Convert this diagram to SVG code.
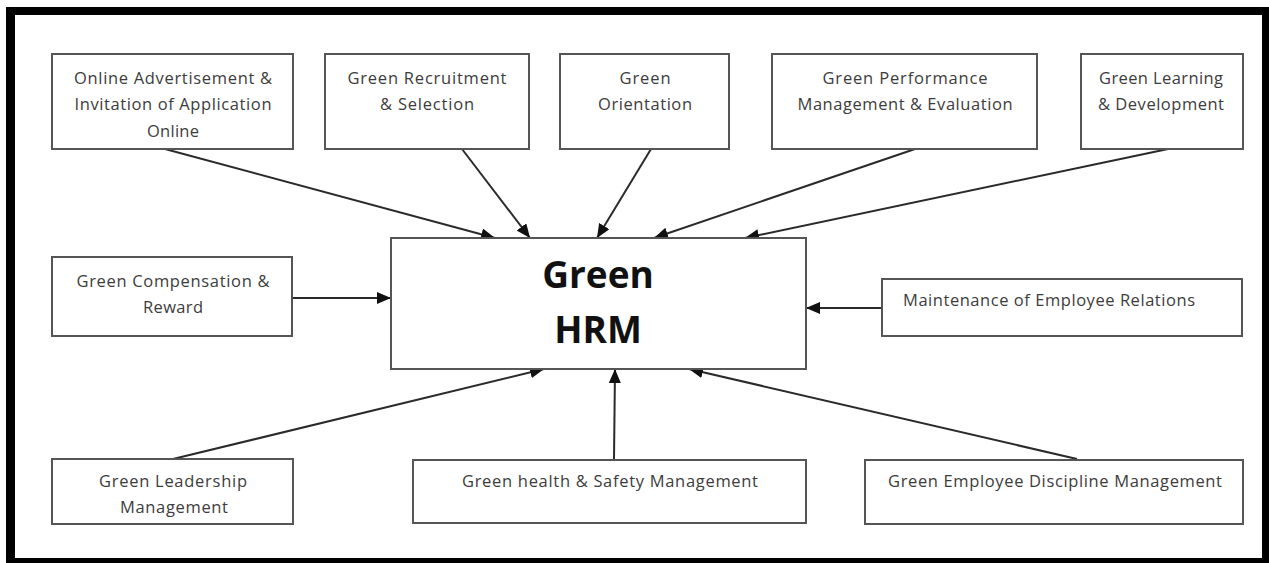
<svg xmlns="http://www.w3.org/2000/svg" width="1269" height="563" viewBox="0 0 1269 563">
  <style>
    .box { fill: #ffffff; stroke: #555555; stroke-width: 2; }
    .lbl { font-family: "Open Sans", "Liberation Sans", sans-serif; font-size: 16.5px; fill: #3c3c3c; text-anchor: middle; }
    .lbl-start { text-anchor: start; }
    .title { font-family: "Open Sans", "Liberation Sans", sans-serif; font-size: 37px; font-weight: bold; fill: #111111; text-anchor: middle; }
    .conn { stroke: #2a2a2a; stroke-width: 2; fill: none; marker-end: url(#arrow); }
  </style>
  <defs>
    <marker id="arrow" markerUnits="userSpaceOnUse" markerWidth="14" markerHeight="12" refX="14" refY="6" orient="auto">
      <path d="M0,0 L14,6 L0,12 Z" fill="#111111"/>
    </marker>
  </defs>

  <!-- page frame -->
  <rect x="0" y="0" width="1269" height="563" fill="#ffffff"/>
  <rect x="6" y="7" width="1263" height="556" fill="#000000"/>
  <rect x="15" y="15" width="1247" height="543" fill="#ffffff"/>

  <!-- connectors -->
  <g id="connectors">
    <line class="conn" x1="165" y1="149" x2="495" y2="238"/>
    <line class="conn" x1="462" y1="149" x2="530" y2="238"/>
    <line class="conn" x1="651" y1="149" x2="597" y2="238"/>
    <line class="conn" x1="915" y1="149" x2="654" y2="238"/>
    <line class="conn" x1="1168" y1="149" x2="745" y2="238"/>
    <line class="conn" x1="292" y1="298" x2="391" y2="298"/>
    <line class="conn" x1="882" y1="308" x2="806" y2="308"/>
    <line class="conn" x1="173" y1="459" x2="544" y2="369"/>
    <line class="conn" x1="614" y1="459" x2="615" y2="369"/>
    <line class="conn" x1="1077" y1="459" x2="689" y2="369"/>
  </g>

  <!-- central node -->
  <g id="green-hrm">
    <rect class="box" x="391" y="238" width="415" height="131"/>
    <text class="title" x="598" y="288">Green</text>
    <text class="title" x="598" y="343">HRM</text>
  </g>

  <!-- top row -->
  <g id="online-advertisement">
    <rect class="box" x="52" y="54" width="241" height="95"/>
    <text class="lbl" x="173" y="84" textLength="198">Online Advertisement &amp;</text>
    <text class="lbl" x="173" y="110" textLength="197">Invitation of Application</text>
    <text class="lbl" x="173" y="137" textLength="52">Online</text>
  </g>
  <g id="green-recruitment">
    <rect class="box" x="325" y="54" width="204" height="95"/>
    <text class="lbl" x="427" y="84" textLength="159">Green Recruitment</text>
    <text class="lbl" x="427" y="110" textLength="94">&amp; Selection</text>
  </g>
  <g id="green-orientation">
    <rect class="box" x="560" y="54" width="169" height="95"/>
    <text class="lbl" x="645" y="84" textLength="51">Green</text>
    <text class="lbl" x="645" y="110" textLength="94">Orientation</text>
  </g>
  <g id="green-performance">
    <rect class="box" x="772" y="54" width="265" height="95"/>
    <text class="lbl" x="905" y="84" textLength="165">Green Performance</text>
    <text class="lbl" x="905" y="110" textLength="215">Management &amp; Evaluation</text>
  </g>
  <g id="green-learning">
    <rect class="box" x="1081" y="54" width="162" height="95"/>
    <text class="lbl" x="1161" y="84" textLength="124">Green Learning</text>
    <text class="lbl" x="1161" y="110" textLength="126">&amp; Development</text>
  </g>

  <!-- middle row -->
  <g id="green-compensation">
    <rect class="box" x="52" y="257" width="240" height="79"/>
    <text class="lbl" x="173" y="287" textLength="193">Green Compensation &amp;</text>
    <text class="lbl" x="173" y="313" textLength="60">Reward</text>
  </g>
  <g id="employee-relations">
    <rect class="box" x="882" y="279" width="360" height="57"/>
    <text class="lbl lbl-start" x="903" y="306" textLength="292">Maintenance of Employee Relations</text>
  </g>

  <!-- bottom row -->
  <g id="green-leadership">
    <rect class="box" x="52" y="459" width="241" height="65"/>
    <text class="lbl" x="173" y="487" textLength="148">Green Leadership</text>
    <text class="lbl" x="174" y="513" textLength="108">Management</text>
  </g>
  <g id="green-health-safety">
    <rect class="box" x="413" y="460" width="393" height="63"/>
    <text class="lbl" x="610" y="487" textLength="296">Green health &amp; Safety Management</text>
  </g>
  <g id="green-discipline">
    <rect class="box" x="865" y="460" width="378" height="64"/>
    <text class="lbl" x="1055" y="487" textLength="334">Green Employee Discipline Management</text>
  </g>
</svg>
